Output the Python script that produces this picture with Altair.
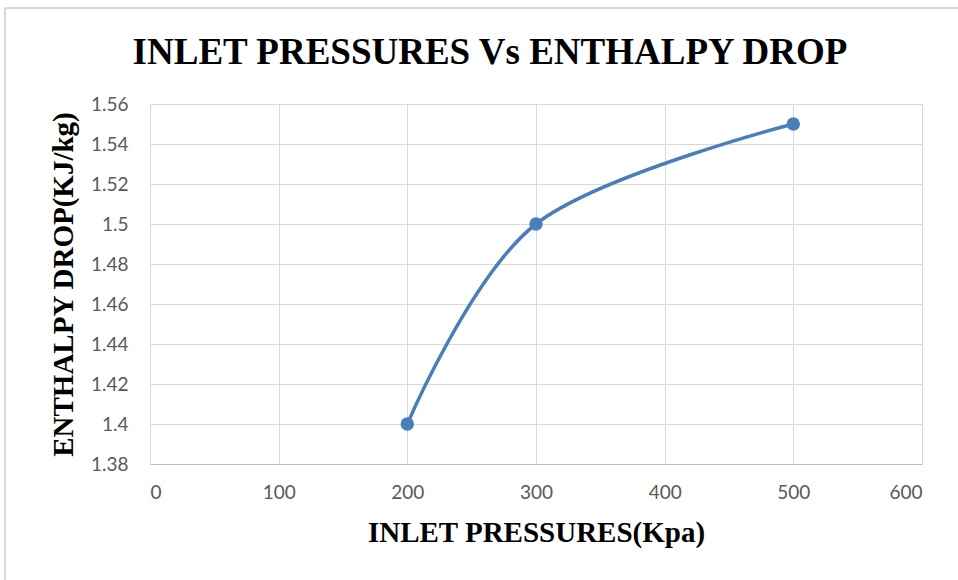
import altair as alt
import pandas as pd

# Inlet pressure (kPa) vs enthalpy drop (kJ/kg)
pressures = [200, 300, 500]
enthalpy_drop = [1.40, 1.50, 1.55]

x_ticks = [0, 100, 200, 300, 400, 500, 600]
y_ticks = [1.38, 1.40, 1.42, 1.44, 1.46, 1.48, 1.50, 1.52, 1.54, 1.56]

chart_title = "INLET PRESSURES Vs ENTHALPY DROP"

df = pd.DataFrame({"pressure": pressures, "drop": enthalpy_drop})

LINE_BLUE = "#4A7EBB"
GRID = "#D9D9D9"
LABEL_GRAY = "#595959"
SERIF = "Liberation Serif"
SANS = "Lato"

x_enc = alt.X(
    "pressure:Q",
    scale=alt.Scale(domain=[0, 600], nice=False, zero=False),
    axis=alt.Axis(
        values=x_ticks,
        tickCount=len(x_ticks),
        title="INLET PRESSURES(Kpa)",
        titleFont=SERIF,
        titleFontSize=29,
        titleFontWeight="bold",
        titleColor="black",
        titlePadding=16,
        labelFont=SANS,
        labelFontSize=19,
        labelColor=LABEL_GRAY,
        labelPadding=19,
        labelOverlap=False,
        ticks=False,
        domain=True,
        domainColor="#BFBFBF",
        domainWidth=1.2,
        grid=True,
        gridColor=GRID,
        gridWidth=1,
    ),
)
y_enc = alt.Y(
    "drop:Q",
    scale=alt.Scale(domain=[1.38, 1.56], nice=False, zero=False),
    axis=alt.Axis(
        values=y_ticks,
        tickCount=len(y_ticks),
        labelExpr="format(datum.value, '.2~f')",
        title="ENTHALPY DROP(KJ/kg)",
        titleFont=SERIF,
        titleFontSize=29,
        titleFontWeight="bold",
        titleColor="black",
        titlePadding=12,
        labelFont=SANS,
        labelFontSize=19,
        labelColor=LABEL_GRAY,
        labelPadding=22,
        labelOverlap=False,
        ticks=False,
        domain=False,
        grid=True,
        gridColor=GRID,
        gridWidth=1,
    ),
)

curve = alt.Chart(df).mark_line(
    interpolate="cardinal", color=LINE_BLUE, strokeWidth=3.5
).encode(x=x_enc, y=y_enc)

dots = alt.Chart(df).mark_point(
    filled=True, size=180, color=LINE_BLUE, opacity=1
).encode(x="pressure:Q", y="drop:Q")

# light frame around the whole figure (only top and left edges fall inside the page)
frame_top = alt.Chart(df).mark_rule(color=GRID, strokeWidth=1.5, clip=False).encode(
    x=alt.value(-145), x2=alt.value(830), y=alt.value(-96)
)
frame_left = alt.Chart(df).mark_rule(color=GRID, strokeWidth=1.5, clip=False).encode(
    x=alt.value(-145), y=alt.value(-96), y2=alt.value(490)
)

heading = alt.Chart(pd.DataFrame({"t": [chart_title]})).mark_text(
    font=SERIF,
    fontSize=37,
    fontWeight="bold",
    color="black",
    align="center",
    baseline="alphabetic",
    clip=False,
).encode(text="t:N", x=alt.value(340), y=alt.value(-40))

chart = (
    alt.layer(frame_top, frame_left, curve, dots, heading)
    .properties(
        width=772,
        height=360,
        autosize=alt.AutoSizeParams(type="none"),
        padding={"left": 150, "top": 104, "right": 36, "bottom": 116},
    )
    .configure_view(stroke=None)
    .configure(background="white")
)

chart.save("out.html", embed_options={"renderer": "svg", "actions": False})
